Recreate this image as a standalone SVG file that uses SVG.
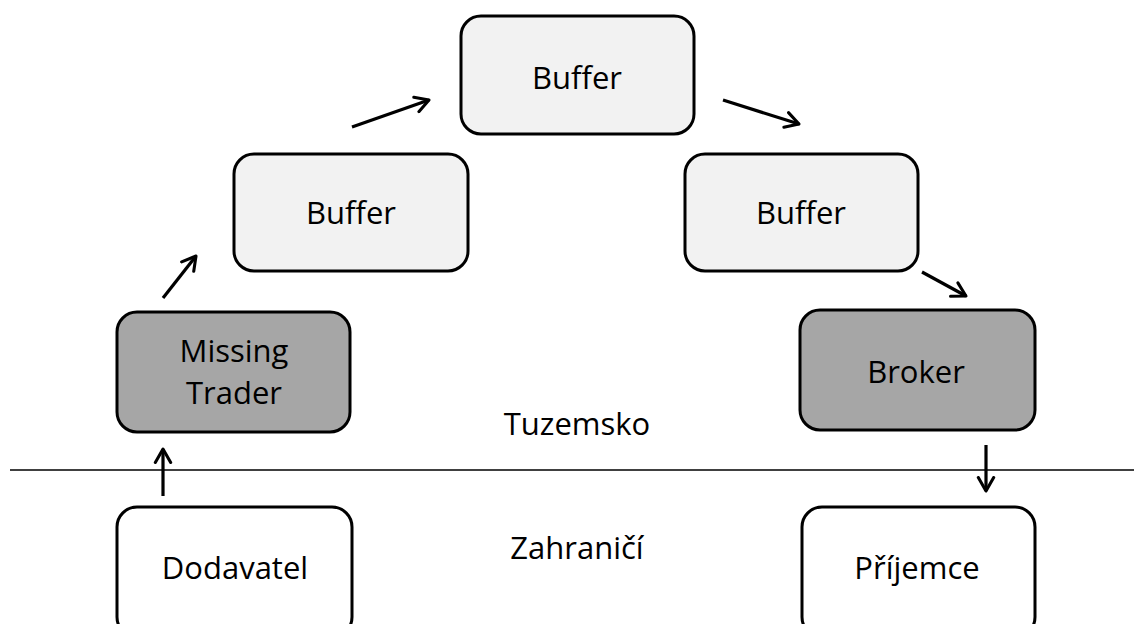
<svg xmlns="http://www.w3.org/2000/svg" width="1134" height="624" viewBox="0 0 1134 624">
<style>
.box{stroke:#000;stroke-width:3}
.light{fill:#f2f2f2}
.dark{fill:#a6a6a6}
.white{fill:#fff}
.lbl{font-family:"Open Sans","Liberation Sans",sans-serif;font-size:31px;fill:#000;text-anchor:middle}
.conn{stroke:#000;stroke-width:3.2;fill:none;marker-end:url(#ah)}
</style>
<defs>
<marker id="ah" viewBox="0 0 10 10" refX="8" refY="5" markerWidth="6" markerHeight="6" orient="auto" markerUnits="strokeWidth">
<path d="M1,1 L8,5 L1,9" fill="none" stroke="#000" stroke-width="1.6" stroke-linecap="round" stroke-linejoin="round"/>
</marker>
</defs>
<rect width="1134" height="624" fill="#fff"/>
<line x1="10" y1="470" x2="1134" y2="470" stroke="#000" stroke-width="1.5"/>
<g id="buffer-top"><rect class="box light" x="461" y="16" width="233" height="118" rx="20"/><text class="lbl" x="577" y="89">Buffer</text></g>
<g id="buffer-left"><rect class="box light" x="234" y="154" width="234" height="117" rx="20"/><text class="lbl" x="351" y="224">Buffer</text></g>
<g id="buffer-right"><rect class="box light" x="685" y="154" width="233" height="117" rx="20"/><text class="lbl" x="801" y="224">Buffer</text></g>
<g id="missing-trader"><rect class="box dark" x="117" y="312" width="233" height="120" rx="20"/><text class="lbl" x="234" y="362">Missing</text><text class="lbl" x="234" y="404">Trader</text></g>
<g id="broker"><rect class="box dark" x="800" y="310" width="235" height="120" rx="20"/><text class="lbl" x="916" y="383">Broker</text></g>
<g id="dodavatel"><rect class="box white" x="117" y="507" width="235" height="130" rx="20"/><text class="lbl" x="235" y="579">Dodavatel</text></g>
<g id="prijemce"><rect class="box white" x="802" y="507" width="233" height="130" rx="20"/><text class="lbl" x="917" y="579">Příjemce</text></g>
<g id="tuzemsko"><text class="lbl" x="577" y="435">Tuzemsko</text></g>
<g id="zahranici"><text class="lbl" x="577" y="559">Zahraničí</text></g>
<g id="connectors">
<line class="conn" x1="163" y1="496" x2="163" y2="449"/>
<line class="conn" x1="163" y1="298" x2="196" y2="256"/>
<line class="conn" x1="352" y1="127" x2="429" y2="100"/>
<line class="conn" x1="723" y1="100" x2="799" y2="124"/>
<line class="conn" x1="922" y1="272" x2="966" y2="296"/>
<line class="conn" x1="986" y1="445" x2="986" y2="491"/>
</g>
</svg>
